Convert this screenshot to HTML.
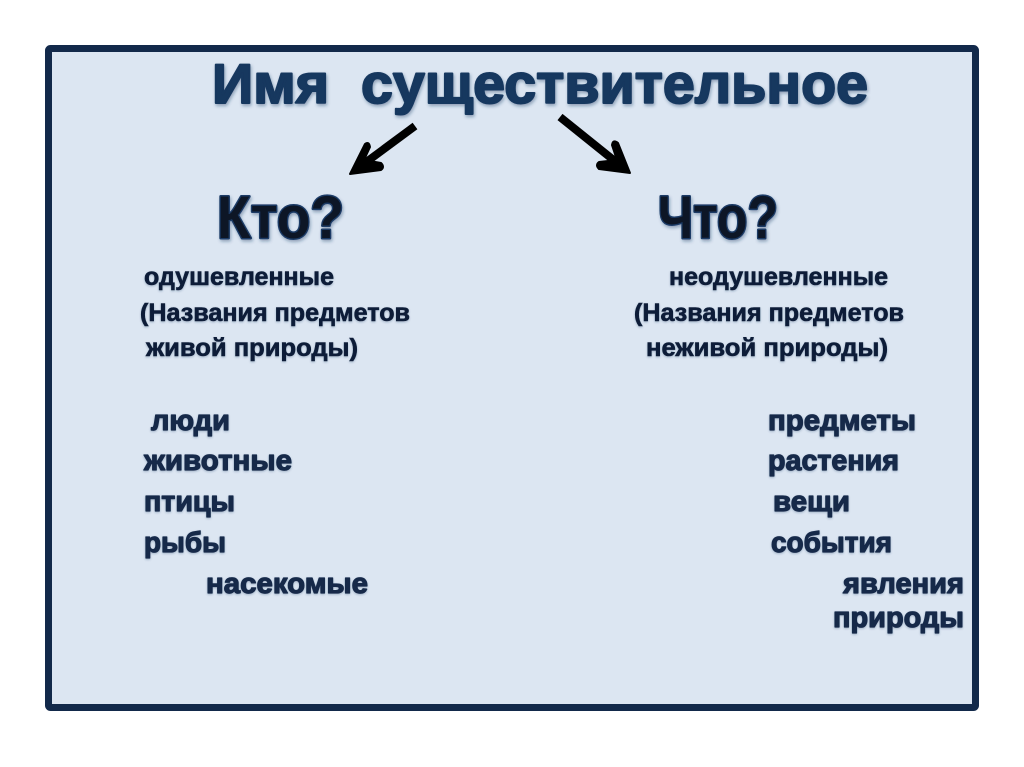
<!DOCTYPE html>
<html lang="ru"><head><meta charset="utf-8"><style>
html,body{margin:0;padding:0;background:#fff;width:1024px;height:767px;overflow:hidden}
svg{display:block}
text{font-family:"Liberation Sans","DejaVu Sans",sans-serif;font-weight:bold}
.t{fill:#17375e;font-size:56px;stroke:#17375e;stroke-width:2px;stroke-linejoin:round;filter:url(#sh)}
.q{fill:#0b1626;font-size:60px;stroke:#1b3a66;stroke-width:3px;stroke-linejoin:round;paint-order:stroke;filter:url(#sh)}
.s{fill:#0f1f38;font-size:25px;stroke:#0f1f38;stroke-width:.6px;filter:url(#s2)}
.l{fill:#14294a;font-size:29px;stroke:#14294a;stroke-width:1.2px;stroke-linejoin:round;filter:url(#s2)}
</style></head><body>
<svg width="1024" height="767" viewBox="0 0 1024 767" xmlns="http://www.w3.org/2000/svg">
<defs>
<filter id="sh" x="-5%" y="-20%" width="110%" height="140%"><feDropShadow dx="1" dy="2" stdDeviation="1.5" flood-color="#17375e" flood-opacity=".4"/></filter>
<filter id="s2" x="-5%" y="-20%" width="110%" height="140%"><feDropShadow dx="0" dy="1" stdDeviation="1" flood-color="#17375e" flood-opacity=".3"/></filter>
</defs>
<rect x="48.5" y="48.5" width="927" height="659" rx="2" fill="#dce6f2" stroke="#12294a" stroke-width="7"/>
<text class="t" x="212" y="103" textLength="656" lengthAdjust="spacingAndGlyphs" xml:space="preserve">Имя  существительное</text>
<path d="M415 126L365 163" stroke="#000" stroke-width="8" fill="none"/>
<path d="M350 174L365 144Q369 141 370 147L364 160L381 163Q385 167 381 170Z" fill="#000" stroke="#000" stroke-width="2" stroke-linejoin="round"/>
<path d="M560 117L616 162" stroke="#000" stroke-width="8" fill="none"/>
<path d="M630 173L599 169Q595 165 599 162L617 160L612 145Q613 139 618 143Z" fill="#000" stroke="#000" stroke-width="2" stroke-linejoin="round"/>
<text class="q" x="217" y="238" textLength="127" lengthAdjust="spacingAndGlyphs">Кто?</text>
<text class="q" x="658" y="238" textLength="120" lengthAdjust="spacingAndGlyphs">Что?</text>
<text class="s" x="144" y="285" textLength="190" lengthAdjust="spacingAndGlyphs">одушевленные</text>
<text class="s" x="140" y="321" textLength="270" lengthAdjust="spacingAndGlyphs">(Названия предметов</text>
<text class="s" x="146" y="356" textLength="212" lengthAdjust="spacingAndGlyphs">живой природы)</text>
<text class="s" x="669" y="285" textLength="219" lengthAdjust="spacingAndGlyphs">неодушевленные</text>
<text class="s" x="634" y="321" textLength="270" lengthAdjust="spacingAndGlyphs">(Названия предметов</text>
<text class="s" x="646" y="356" textLength="242" lengthAdjust="spacingAndGlyphs">неживой природы)</text>
<text class="l" x="151" y="430" textLength="79" lengthAdjust="spacingAndGlyphs">люди</text>
<text class="l" x="144" y="470" textLength="148" lengthAdjust="spacingAndGlyphs">животные</text>
<text class="l" x="144" y="511" textLength="91" lengthAdjust="spacingAndGlyphs">птицы</text>
<text class="l" x="144" y="552" textLength="82" lengthAdjust="spacingAndGlyphs">рыбы</text>
<text class="l" x="206" y="593" textLength="162" lengthAdjust="spacingAndGlyphs">насекомые</text>
<text class="l" x="768" y="430" textLength="148" lengthAdjust="spacingAndGlyphs">предметы</text>
<text class="l" x="768" y="470" textLength="131" lengthAdjust="spacingAndGlyphs">растения</text>
<text class="l" x="773" y="511" textLength="77" lengthAdjust="spacingAndGlyphs">вещи</text>
<text class="l" x="771" y="552" textLength="121" lengthAdjust="spacingAndGlyphs">события</text>
<text class="l" x="843" y="593" textLength="121" lengthAdjust="spacingAndGlyphs">явления</text>
<text class="l" x="833" y="627" textLength="131" lengthAdjust="spacingAndGlyphs">природы</text>
</svg>
</body></html>
